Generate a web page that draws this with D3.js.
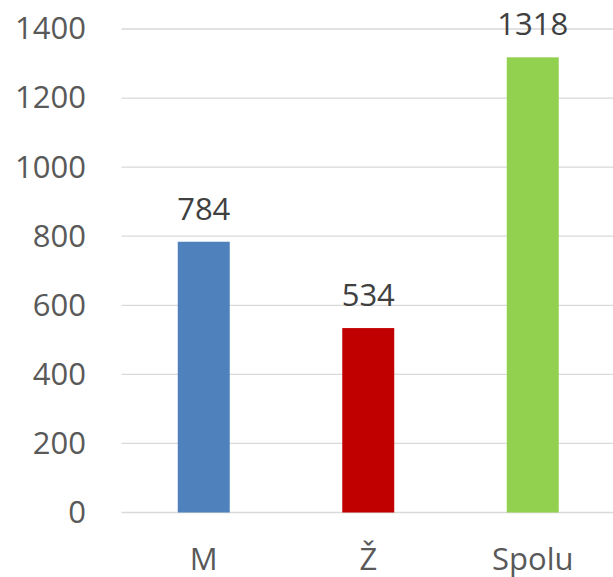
<!DOCTYPE html>
<html lang="sk">
<head>
    <meta charset="UTF-8">
    <title>M / Ž / Spolu</title>
    <style>
        body { margin: 0; background: #fff; }
        svg { display: block; }
        text { font-family: "Open Sans", "Liberation Sans", sans-serif; }
    </style>
</head>
<body>
<svg width="613" height="577"></svg>

<script src="https://d3js.org/d3.v7.min.js"></script>
<script>
    // dáta
    const categories = ["M", "Ž", "Spolu"];
    const values = [784, 534, 1318];
    const colors = ["#4F81BD", "#C00000", "#92D050"];
    const yTicks = [0, 200, 400, 600, 800, 1000, 1200, 1400];

    const svg = d3.select("svg");

    const x = d3.scaleBand()
        .domain(categories)
        .range([121.5, 615])
        .paddingInner(0.684)
        .paddingOuter(0.342);

    const y = d3.scaleLinear()
        .domain([0, 1400])
        .range([512.5, 29]);

    // mriežka
    svg.append("g")
        .selectAll("line")
        .data(yTicks)
        .join("line")
        .attr("x1", 121.5)
        .attr("x2", 613)
        .attr("y1", d => y(d))
        .attr("y2", d => y(d))
        .attr("stroke", "#d9d9d9")
        .attr("stroke-width", 1.3);

    // os y
    const yAxis = d3.axisLeft(y)
        .tickValues(yTicks)
        .tickFormat(d3.format("d"))
        .tickSize(0)
        .tickPadding(0);
    const gY = svg.append("g")
        .attr("transform", "translate(86,0)")
        .call(yAxis);
    gY.select(".domain").remove();
    gY.selectAll("text")
        .attr("font-size", 31)
        .attr("fill", "#595959")
        .attr("font-family", null);

    // stĺpce
    svg.append("g")
        .selectAll("rect")
        .data(values)
        .join("rect")
        .attr("x", (d, i) => x(categories[i]))
        .attr("width", x.bandwidth())
        .attr("y", d => y(d))
        .attr("height", d => y(0) - y(d))
        .attr("fill", (d, i) => colors[i]);

    // popisky hodnôt
    svg.append("g")
        .selectAll("text")
        .data(values)
        .join("text")
        .attr("x", (d, i) => x(categories[i]) + x.bandwidth() / 2)
        .attr("y", d => y(d) - 22)
        .attr("text-anchor", "middle")
        .attr("font-size", 31)
        .attr("fill", "#404040")
        .text(d => d);

    // os x
    const xAxis = d3.axisBottom(x).tickSize(0).tickPadding(0);
    const gX = svg.append("g")
        .attr("transform", "translate(0,512.5)")
        .call(xAxis);
    gX.select(".domain").remove();
    gX.selectAll("text")
        .attr("font-size", 31)
        .attr("fill", "#595959")
        .attr("font-family", null)
        .attr("dy", null)
        .attr("y", 57);
</script>
</body>
</html>
